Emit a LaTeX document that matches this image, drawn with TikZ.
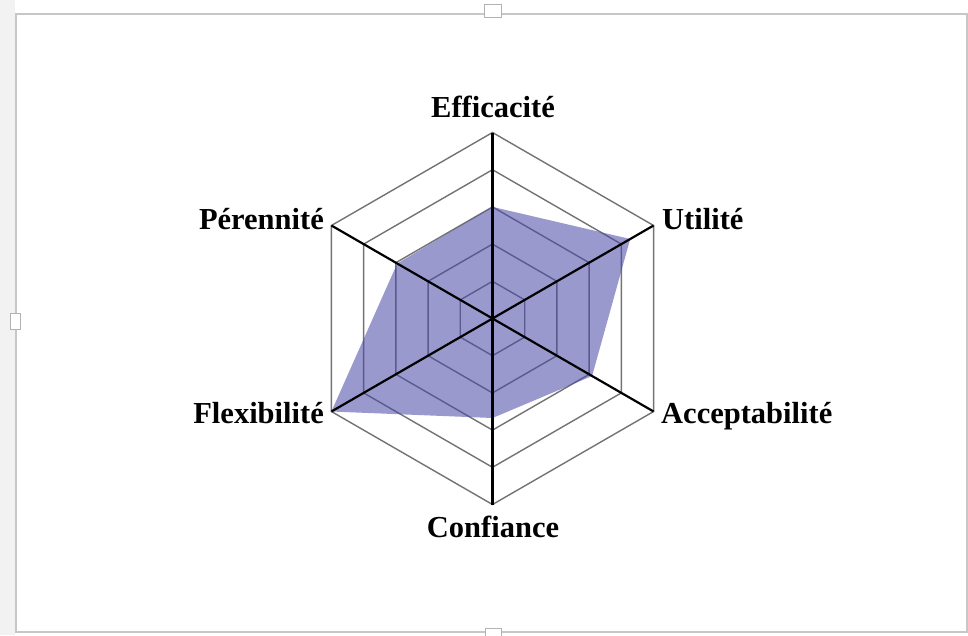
\documentclass[tikz,border=0pt]{standalone}
\usepackage{fontspec}
\setmainfont{Liberation Serif}
\begin{document}
\begin{tikzpicture}[x=1pt,y=-1pt,
  gridline/.style={draw=black!55, line width=1.4pt},
  axisline/.style={draw=black, line width=2.2pt},
  lbl/.style={font=\fontsize{30.5}{36}\selectfont\bfseries, inner sep=0pt},
  datafill/.style={fill={rgb,255:red,70;green,70;blue,165}, fill opacity=0.55},
  frame/.style={draw=black!22, line width=2pt},
  handle/.style={draw=black!30, fill=white, line width=1pt}]
\useasboundingbox (0,0) rectangle (968,635);
\fill[white] (0,0) rectangle (968,635);
\fill[black!5] (0,0) rectangle (15,635);
\draw[frame] (16,14) rectangle (967,632);
\draw[handle] (484,4) rectangle (501,17);
\draw[handle] (10,313) rectangle (20,329);
\draw[handle] (485,628) rectangle (501,640);
\coordinate (O) at (492.5,318.5);
\begin{scope}[shift={(O)}]
  \foreach \r in {37.2,74.4,111.6,148.8,186} {
    \draw[gridline] (-90:\r) -- (-30:\r) -- (30:\r) -- (90:\r) -- (150:\r) -- (210:\r) -- cycle;
  }
  \fill[datafill] (-90:111.6) -- (-30:159) -- (30:115) -- (90:99.5) -- (150:186) -- (210:110) -- cycle;
  \coordinate (vE) at (-90:186);
  \coordinate (vU) at (-30:186);
  \coordinate (vA) at (30:186);
  \coordinate (vC) at (90:186);
  \coordinate (vF) at (150:186);
  \coordinate (vP) at (210:186);
\end{scope}
\draw[axisline] (vE) -- (vC);
\draw[axisline] (vU) -- (vF);
\draw[axisline] (vP) -- (vA);
\node[lbl, anchor=base] (eff) at (493,117) {Efficacité};
\node[lbl, anchor=base west] (uti) at (662,229) {Utilité};
\node[lbl, anchor=base west] (acc) at (661,423) {Acceptabilité};
\node[lbl, anchor=base] (con) at (493,537) {Confiance};
\node[lbl, anchor=base east] (fle) at (324,423) {Flexibilité};
\node[lbl, anchor=base east] (per) at (324,229) {Pérennité};
\end{tikzpicture}
\end{document}
